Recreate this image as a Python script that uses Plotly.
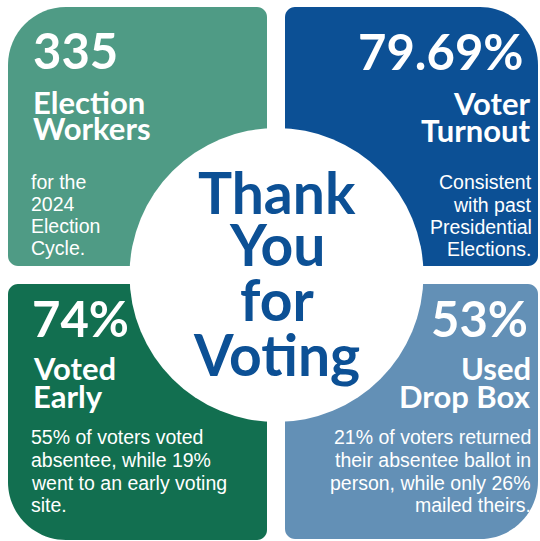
import plotly.graph_objects as go

# ---- content ----
values = ["335", "79.69%", "74%", "53%"]
titles = ["Election<br>Workers", "Voter<br>Turnout", "Voted<br>Early", "Used<br>Drop Box"]
notes = [
    "for the<br>2024<br>Election<br>Cycle.",
    "Consistent<br>with past<br>Presidential<br>Elections.",
    "55% of voters voted<br>absentee, while 19%<br>went to an early voting<br>site.",
    "21% of voters returned<br>their absentee ballot in<br>person, while only 26%<br>mailed theirs.",
]
center_lines = ["Thank", "You", "for", "Voting"]
panel_colors = ["#4f9b85", "#0c5095", "#126f50", "#6390b6"]
center_color = "#0c5095"

# ---- layout (pixel-like data space) ----
W, H = 540, 541
panels = [
    dict(box=(8, 7, 267, 266), big="tl", align="left", xv=31, xt=31, xn=29,
         yv=50, yt=[101.5, 128], yn=[182, 204, 226, 248]),
    dict(box=(285, 7, 538, 266), big="tr", align="right", xv=525, xt=533, xn=534,
         yv=51, yt=[102.5, 130], yn=[182, 204.5, 226.5, 248.5]),
    dict(box=(8, 284, 267, 540), big="bl", align="left", xv=30, xt=31, xn=29,
         yv=318, yt=[367.5, 395.5], yn=[437, 460, 483, 505]),
    dict(box=(285, 284, 538, 539), big="br", align="right", xv=530, xt=533, xn=533,
         yv=318, yt=[367.5, 395.5], yn=[437, 460, 483, 505]),
]
circle = dict(cx=276.5, cy=275, r=147)
center_y = [191.5, 244, 299, 353.5]

K = 0.5523


def rounded_path(x0, y0, x1, y1, big, rbig=58, rsmall=10):
    r = {c: (rbig if c == big else rsmall) for c in ("tl", "tr", "br", "bl")}
    tl, tr, br, bl = r["tl"], r["tr"], r["br"], r["bl"]
    p = [f"M {x0+tl},{y0}", f"L {x1-tr},{y0}",
         f"C {x1-tr+K*tr},{y0} {x1},{y0+tr-K*tr} {x1},{y0+tr}",
         f"L {x1},{y1-br}",
         f"C {x1},{y1-br+K*br} {x1-br+K*br},{y1} {x1-br},{y1}",
         f"L {x0+bl},{y1}",
         f"C {x0+bl-K*bl},{y1} {x0},{y1-bl+K*bl} {x0},{y1-bl}",
         f"L {x0},{y0+tl}",
         f"C {x0},{y0+tl-K*tl} {x0+tl-K*tl},{y0} {x0+tl},{y0}", "Z"]
    return " ".join(p)


fig = go.Figure()
fig.add_trace(go.Scatter(x=[0, W], y=[0, H], mode="markers",
                         marker=dict(opacity=0), hoverinfo="skip", showlegend=False))

shapes = []
for p, col in zip(panels, panel_colors):
    shapes.append(dict(type="path", path=rounded_path(*p["box"], p["big"]),
                       xref="x", yref="y", fillcolor=col, line=dict(width=0), layer="above"))
shapes.append(dict(type="circle", xref="x", yref="y",
                   x0=circle["cx"] - circle["r"], x1=circle["cx"] + circle["r"],
                   y0=circle["cy"] - circle["r"], y1=circle["cy"] + circle["r"],
                   fillcolor="white", line=dict(width=0), layer="above"))

HEAD = "Lato"
BODY = "Liberation Sans, Arial, sans-serif"
anns = []
for p, v, t, n in zip(panels, values, titles, notes):
    anns.append(dict(x=p["xv"], y=p["yv"], text=v, xanchor=p["align"], yanchor="middle",
                     font=dict(family=HEAD, size=49, color="white", weight=700)))
    for line, yy in zip(t.split("<br>"), p["yt"]):
        anns.append(dict(x=p["xt"], y=yy, text=line, xanchor=p["align"], yanchor="middle",
                         font=dict(family=HEAD, size=31, color="white", weight=700)))
    for line, yy in zip(n.split("<br>"), p["yn"]):
        anns.append(dict(x=p["xn"], y=yy, text=line, xanchor=p["align"], yanchor="middle",
                         font=dict(family=BODY, size=19.5, color="white")))
for line, yy in zip(center_lines, center_y):
    anns.append(dict(x=circle["cx"], y=yy, text=line, xanchor="center", yanchor="middle",
                     font=dict(family=HEAD, size=57, color=center_color, weight=700)))
for a in anns:
    a.update(xref="x", yref="y", showarrow=False)

fig.update_layout(
    width=W, height=H, margin=dict(l=0, r=0, t=0, b=0, pad=0),
    paper_bgcolor="white", plot_bgcolor="white",
    xaxis=dict(range=[0, W], visible=False, fixedrange=True),
    yaxis=dict(range=[H, 0], visible=False, fixedrange=True),
    shapes=shapes, annotations=anns, showlegend=False,
)
post = ("var s=document.createElement('style');"
        "s.textContent='html,body{margin:0;padding:0;overflow:hidden} text{font-variant-ligatures:none}';"
        "document.head.appendChild(s);")
fig.write_html("out.html", config={"displayModeBar": False}, post_script=post)
